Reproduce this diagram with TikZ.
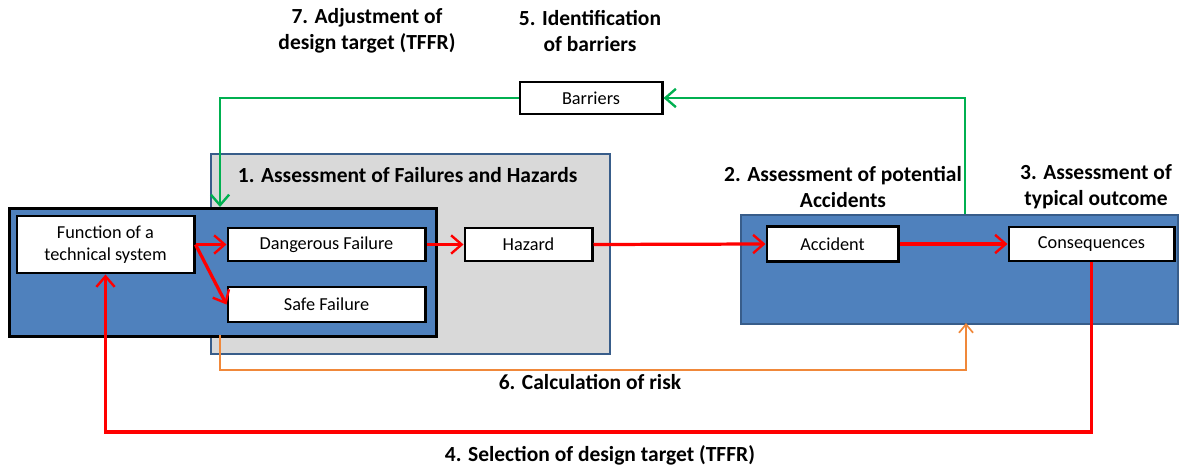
\documentclass[tikz,border=0pt]{standalone}
\usepackage{fontspec}
\setmainfont{Carlito}
\usetikzlibrary{arrows.meta}
\definecolor{panelblue}{HTML}{4F81BD}
\definecolor{paneledge}{HTML}{385D8A}
\definecolor{panelgray}{HTML}{D9D9D9}
\definecolor{flowred}{HTML}{FF0000}
\definecolor{flowgreen}{HTML}{00B050}
\definecolor{floworange}{HTML}{F0883A}
\tikzset{
  stepbox/.style={draw=black, fill=white, line width=2.1pt, inner sep=0pt,
    font=\fontsize{13}{15}\selectfont},
  caption/.style={align=center, font=\bfseries\fontsize{15.3}{18.5}\selectfont},
  region/.style={inner sep=0pt, anchor=north west},
  barb/.style={-{Straight Barb[length=7.5pt,width=13pt,line width=1.7pt]}},
  redflow/.style={draw=flowred, line width=2.3pt, barb},
  greenflow/.style={draw=flowgreen, line width=1.8pt, barb},
  orangeflow/.style={draw=floworange, line width=1.4pt,
    -{Straight Barb[length=6pt,width=10pt,line width=1.2pt]}},
}
\begin{document}
\begin{tikzpicture}[x=0.025cm, y=-0.025cm]
  \useasboundingbox (0,0) rectangle (1182,467);

  % panels
  \node[region, draw=paneledge, fill=panelgray, line width=1.3pt,
        minimum width=9.975cm, minimum height=5cm] (failpanel) at (210,153) {};
  \node[region, draw=black, fill=panelblue, line width=2.1pt,
        minimum width=10.675cm, minimum height=3.2cm] (syspanel) at (8,207) {};
  \node[region, draw=paneledge, fill=panelblue, line width=1.3pt,
        minimum width=10.925cm, minimum height=2.725cm] (accpanel) at (740,214) {};

  % step boxes
  \node[stepbox, minimum width=4.425cm, minimum height=1.425cm, align=center,
        font=\fontsize{13}{16}\selectfont] (func) at (105.5,244.5) {Function of a\\technical system};
  \node[stepbox, minimum width=4.925cm, minimum height=0.825cm] (dang) at (326.5,244.5) {Dangerous Failure};
  \node[stepbox, minimum width=4.925cm, minimum height=0.875cm] (safe) at (326.5,304.5) {Safe Failure};
  \node[stepbox, minimum width=3.175cm, minimum height=0.825cm] (haz) at (528.5,244.5) {Hazard};
  \node[stepbox, minimum width=3.275cm, minimum height=0.875cm] (acc) at (832.5,244) {Accident};
  \node[stepbox, minimum width=4.125cm, minimum height=0.85cm] (cons) at (1091.5,244) {Consequences};
  \node[stepbox, minimum width=3.55cm, minimum height=0.8cm] (barr) at (591,98) {Barriers};

  % captions
  \node[caption] (c7) at (367,31) {7. Adjustment of\\design target (TFFR)};
  \node[caption] (c5) at (590,31) {5. Identification\\of barriers};
  \node[caption, anchor=west] (c1) at (233,175) {1. Assessment of Failures and Hazards};
  \node[caption] (c2) at (843,187) {2. Assessment of potential\\Accidents};
  \node[caption] (c3) at (1096,187) {3. Assessment of\\typical outcome};
  \node[caption] (c6) at (590,382) {6. Calculation of risk};
  \node[caption] (c4) at (600,455) {4. Selection of design target (TFFR)};

  % anchor points on panel edges
  \coordinate (gtop) at (965,214);
  \coordinate (gin) at (220,207);
  \coordinate (oout) at (220,335);
  \coordinate (oin) at (966,323);
  \coordinate (rturn) at (1091.5,432);

  % red main flow
  \draw[redflow] (func.east) -- (dang.west);
  \draw[redflow] (func.east) -- (safe.west);
  \draw[redflow] (dang.east) -- (haz.west);
  \draw[redflow] (haz.east) -- (acc.west);
  \draw[redflow] (acc.east) -- (cons.west);
  \draw[redflow] (cons.south) -- (rturn) -| (func.south);

  % barrier feedback
  \draw[greenflow] (gtop) |- (barr.east);
  \draw[greenflow] (barr.west) -| (gin);

  % risk calculation
  \draw[orangeflow] (oout) -- ++(0,35) -| (oin);
\end{tikzpicture}
\end{document}
